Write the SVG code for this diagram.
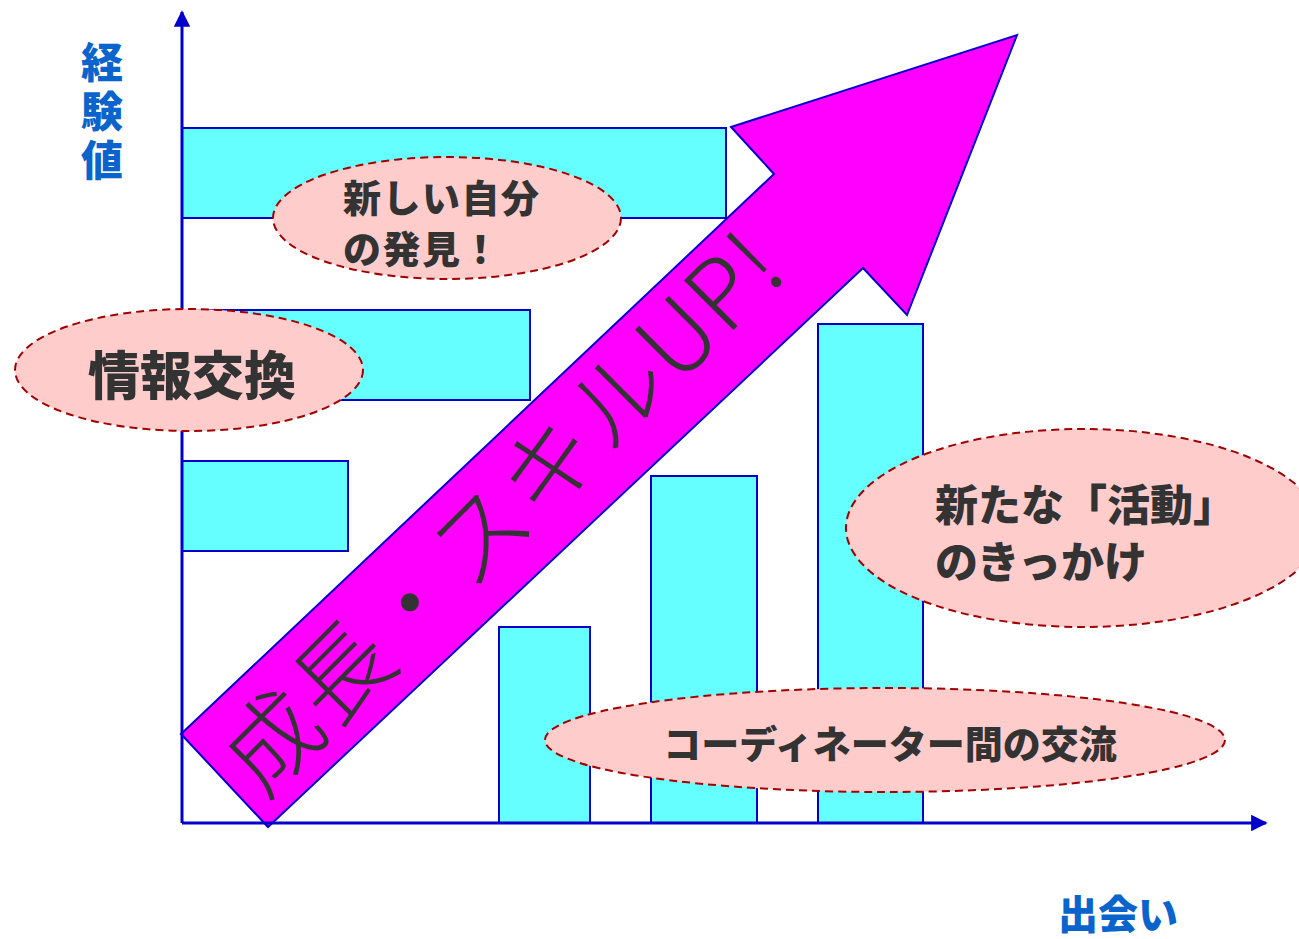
<svg xmlns="http://www.w3.org/2000/svg" width="1299" height="939" viewBox="0 0 1299 939">
<defs>
<style>
.bar{fill:#66FFFF;stroke:#0000CC;stroke-width:2}
.axis{stroke:#0000CC;stroke-width:3;fill:none}
.bubble{fill:#FFCCCC;stroke:#A00000;stroke-width:2;stroke-dasharray:8 5}
.pop{font-family:"Noto Sans CJK JP","Noto Sans",sans-serif;font-weight:900;fill:#333333}
.lbl{font-family:"Noto Sans CJK JP","Noto Sans",sans-serif;font-weight:900;fill:#0A64CC}
.big{font-family:"Noto Sans CJK JP","Noto Sans",sans-serif;font-weight:300;fill:#333333}
</style>
<marker id="ah" viewBox="0 0 10 10" refX="9" refY="5" markerWidth="5.5" markerHeight="5.5" orient="auto" markerUnits="strokeWidth">
<path d="M0,0 L10,5 L0,10 Z" fill="#0000CC"/>
</marker>
</defs>
<rect width="1299" height="939" fill="#FFFFFF"/>
<g id="bars">
<rect class="bar" x="182" y="128" width="544" height="90"/>
<rect class="bar" x="182" y="310" width="348" height="90"/>
<rect class="bar" x="182" y="461" width="166" height="90"/>
<rect class="bar" x="499" y="627" width="91" height="196"/>
<rect class="bar" x="651" y="476" width="106" height="347"/>
<rect class="bar" x="818" y="324" width="105" height="499"/>
</g>
<g id="growth-arrow">
<polygon points="181,734 774,174 731,127 1017,35 907,315 863,268 268,827" fill="#FF00FF" stroke="#0000CC" stroke-width="2" stroke-linejoin="miter"/>
<text class="big" transform="translate(224.5,780.5) rotate(-45)" x="14" y="0" font-size="96" dominant-baseline="central" letter-spacing="1.5">成長・スキルUP!</text>
</g>
<g id="connectors">
<line class="axis" x1="182" y1="823" x2="182" y2="12" marker-end="url(#ah)"/>
<line class="axis" x1="182" y1="823" x2="1266" y2="823" marker-end="url(#ah)"/>
</g>
<g id="node-new-self">
<ellipse class="bubble" cx="447" cy="218" rx="174" ry="61"/>
<text class="pop" font-size="38" letter-spacing="1.5" dominant-baseline="central"><tspan x="343" y="195">新しい自分</tspan><tspan x="343" y="246">の発見！</tspan></text>
</g>
<g id="node-info">
<ellipse class="bubble" cx="189" cy="370" rx="174" ry="61"/>
<text class="pop" x="192" y="372" font-size="52" text-anchor="middle" dominant-baseline="central">情報交換</text>
</g>
<g id="node-activity">
<ellipse class="bubble" cx="1083" cy="528" rx="237" ry="99"/>
<text class="pop" font-size="43" dominant-baseline="central"><tspan x="935" y="502">新たな「活動」</tspan><tspan x="935" y="559">のきっかけ</tspan></text>
</g>
<g id="node-coordinator">
<ellipse class="bubble" cx="885" cy="740" rx="340" ry="52"/>
<text class="pop" x="890" y="741" font-size="38" text-anchor="middle" dominant-baseline="central">コーディネーター間の交流</text>
</g>
<g id="label-y">
<text class="lbl" x="102" y="41" font-size="42" writing-mode="vertical-rl" letter-spacing="7">経験値</text>
</g>
<g id="label-x">
<text class="lbl" x="1118" y="912" font-size="40" text-anchor="middle" dominant-baseline="central">出会い</text>
</g>
</svg>
